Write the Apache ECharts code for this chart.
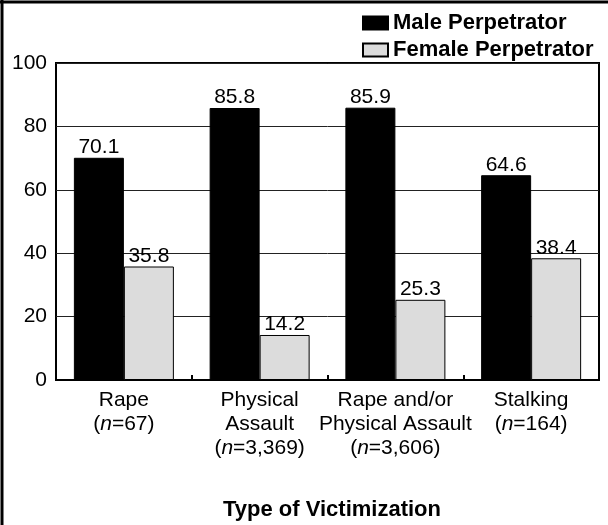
<!DOCTYPE html>
<html>
<head>
<meta charset="utf-8">
<script src="https://cdn.jsdelivr.net/npm/echarts@6/dist/echarts.min.js"></script>
<style>
html,body{margin:0;padding:0;background:#fff;}
#chart{width:608px;height:525px;}
</style>
</head>
<body>
<div id="chart"></div>
<script>
var categories = [
  'Rape\n({i|n}=67)',
  'Physical\nAssault\n({i|n}=3,369)',
  'Rape and/or\nPhysical Assault\n({i|n}=3,606)',
  'Stalking\n({i|n}=164)'
];
var maleValues = [70.1, 85.8, 85.9, 64.6];
var femaleValues = [35.8, 14.2, 25.3, 38.4];
var seriesNames = ['Male Perpetrator', 'Female Perpetrator'];
var xTitle = 'Type of Victimization';

var FONT = "'Liberation Sans', Arial, Helvetica, sans-serif";
var chart = echarts.init(document.getElementById('chart'), null, {renderer: 'canvas'});
chart.setOption({
  animation: false,
  backgroundColor: '#ffffff',
  textStyle: {fontFamily: FONT},
  title: {
    text: xTitle,
    left: 327,
    textAlign: 'center',
    top: 494,
    textStyle: {fontFamily: FONT, fontSize: 22, fontWeight: 'bold', color: '#000'}
  },
  legend: {
    orient: 'vertical',
    left: 357,
    top: 7,
    icon: 'rect',
    itemWidth: 25,
    itemHeight: 13,
    itemGap: 5,
    align: 'left',
    textStyle: {fontFamily: FONT, fontSize: 22, fontWeight: 'bold', color: '#000', lineHeight: 22},
    data: seriesNames
  },
  grid: {
    left: 56, right: 9, top: 63, bottom: 145,
    show: true, borderColor: '#000', borderWidth: 2, backgroundColor: 'transparent'
  },
  xAxis: {
    type: 'category',
    data: categories,
    boundaryGap: true,
    axisLine: {show: true, lineStyle: {color: '#000', width: 2}},
    axisTick: {show: true, inside: true, length: 5, lineStyle: {color: '#000', width: 2}},
    axisLabel: {
      interval: 0,
      margin: 8,
      color: '#000',
      fontFamily: FONT,
      fontSize: 21,
      lineHeight: 24,
      rich: {
        i: {fontStyle: 'italic', fontFamily: FONT, fontSize: 21, color: '#000', lineHeight: 24}
      }
    }
  },
  yAxis: {
    type: 'value',
    min: 0, max: 100, interval: 20,
    axisLine: {show: false},
    axisTick: {show: false},
    splitLine: {show: true, lineStyle: {color: '#222', width: 1}},
    axisLabel: {margin: 9, color: '#000', fontFamily: FONT, fontSize: 21}
  },
  series: [
    {
      name: seriesNames[0],
      type: 'bar',
      data: maleValues,
      barWidth: 50,
      barGap: '0%',
      itemStyle: {color: '#000', borderColor: '#000', borderWidth: 1},
      label: {show: true, position: 'top', distance: 0, color: '#000', fontFamily: FONT, fontSize: 21}
    },
    {
      name: seriesNames[1],
      type: 'bar',
      data: femaleValues,
      barWidth: 50,
      itemStyle: {color: '#dcdcdc', borderColor: '#000', borderWidth: 1},
      label: {show: true, position: 'top', distance: 0, color: '#000', fontFamily: FONT, fontSize: 21}
    }
  ],
  graphic: [
    {type: 'line', shape: {x1: 2, y1: 0, x2: 2, y2: 525}, style: {stroke: '#000', lineWidth: 3}, z: 100},
    {type: 'line', shape: {x1: 0, y1: 2, x2: 608, y2: 2}, style: {stroke: '#000', lineWidth: 3}, z: 100}
  ]
});
</script>
</body>
</html>
